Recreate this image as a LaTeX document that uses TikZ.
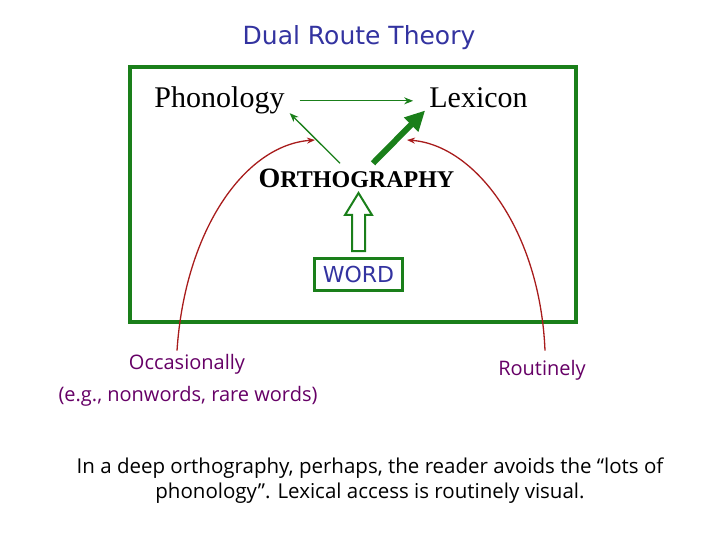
\documentclass[tikz,border=0pt]{standalone}
\usepackage{fontspec}
\setmainfont{Liberation Serif}
\newfontfamily\titlefont{DejaVu Sans}
\newfontfamily\notefont{Open Sans}
\usetikzlibrary{arrows.meta,positioning}
\definecolor{routegreen}{HTML}{1A7F1A}
\definecolor{routered}{HTML}{A81C1C}
\definecolor{titleblue}{HTML}{3333A0}
\definecolor{notepurple}{HTML}{660066}

\begin{document}
\begin{tikzpicture}[x=1pt, y=-1pt,
  word/.style={inner sep=0pt, anchor=base, font=\fontsize{30}{30}\selectfont},
  note/.style={inner sep=0pt, anchor=base, font=\notefont\fontsize{20}{25}\selectfont},
  thin arr/.style={-{Stealth[length=9pt,width=7pt]}, routegreen, line width=1.3pt},
  thick arr/.style={-{Triangle[length=20pt,width=19pt]}, routegreen, line width=6pt},
  red arr/.style={-{Stealth[length=8pt,width=6pt]}, routered, line width=1.3pt},
  hollow/.style={draw=routegreen, line width=2pt, fill=white, line join=miter}
]
\useasboundingbox (0,0) rectangle (720,540);

\node[inner sep=0pt, anchor=base, text=titleblue, font=\titlefont\fontsize{25}{25}\selectfont] (title) at (359,45) {Dual Route Theory};

% the reading box
\draw[routegreen, line width=4pt] (130,67) rectangle (576,322);

\node[word] (phon) at (219.5,108) {Phonology};
\node[word] (lex) at (478.5,108) {Lexicon};
\node[inner sep=0pt, anchor=base, font=\bfseries] (orth) at (356.5,188)
  {{\fontsize{28}{28}\selectfont O}{\fontsize{24}{24}\selectfont RTHOGRAPHY}};
\node[draw=routegreen, line width=3pt, minimum width=88pt, minimum height=32pt, inner sep=0pt,
  text=titleblue, font=\titlefont\fontsize{22}{22}\selectfont] (wordbox) at (358.5,274.5) {WORD};

\node[note, text=notepurple] (occ) at (187,369) {Occasionally};
\node[note, text=notepurple] (eg) at (188,401) {(e.g., nonwords, rare words)};
\node[note, text=notepurple] (rout) at (542,375) {Routinely};
\node[note, anchor=center, align=center, font=\notefont\fontsize{20.5}{25}\selectfont] (deep) at (370,481)
  {In a deep orthography, perhaps, the reader avoids the “lots of\\phonology”. Lexical access is routinely visual.};

\coordinate (lefttip) at (315,140);
\coordinate (righttip) at (407,140);

\draw[thin arr] ([xshift=15pt]phon.east) -- ([xshift=-16pt]lex.west |- phon.east);
\draw[thin arr] ([shift={(-16.5,-6)}]orth.north) -- ([shift={(5,-1.5)}]phon.south east);
\draw[thick arr] ([shift={(16.5,-6)}]orth.north) -- ([shift={(-4,2)}]lex.south west);

% the word goes up to the spelling
\draw[hollow, shift={(wordbox.north)}] (-6.5,-6) -- (-6.5,-42) -- (-13.5,-42) -- (0,-64)
  -- (13.5,-42) -- (6.5,-42) -- (6.5,-6) -- cycle;

\draw[red arr] ([shift={(-10,-3)}]occ.north) .. controls (185,230) and (245,145) .. (lefttip);
\draw[red arr] ([shift={(3,-9)}]rout.north) .. controls (540,230) and (475,145) .. (righttip);
\end{tikzpicture}
\end{document}
